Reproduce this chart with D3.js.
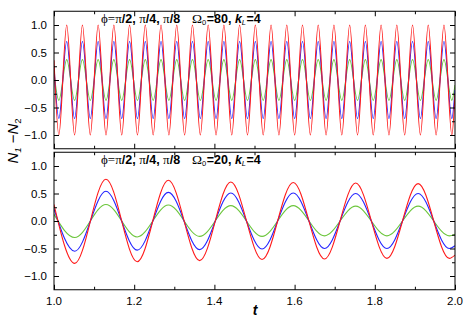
<!DOCTYPE html>
<html>
<head>
<meta charset="utf-8">
<script src="https://cdn.jsdelivr.net/npm/d3@7"></script>
<style>
body{margin:0;background:#fff;}
svg{display:block;font-family:"Liberation Sans",Arial,sans-serif;}
</style>
</head>
<body>
<div id="graphHolder"></div>
<script>
// upper panel (Omega0=80): times of the troughs/peaks, plus both ends
var tTop = [1.0,
	1.0121,1.0317,1.0513,1.0709,1.0905,1.1101,1.1297,1.1493,1.1689,1.1885,
	1.2081,1.2277,1.2473,1.2669,1.2865,1.3061,1.3257,1.3453,1.3649,1.3845,
	1.4041,1.4237,1.4433,1.4629,1.4825,1.5021,1.5217,1.5413,1.5609,1.5805,
	1.6001,1.6197,1.6393,1.6589,1.6785,1.6981,1.7177,1.7373,1.7569,1.7765,
	1.7961,1.8157,1.8353,1.8549,1.8745,1.8941,1.9137,1.9333,1.9529,1.9725,
	1.9921,2.0];
var redTop = [0.36,
	-1.0,1.0,-1.0,1.0,-1.0,1.0,-1.0,1.0,-1.0,1.0,
	-1.0,1.0,-1.0,1.0,-1.0,1.0,-1.0,1.0,-1.0,1.0,
	-1.0,1.0,-1.0,1.0,-1.0,1.0,-1.0,1.0,-1.0,1.0,
	-1.0,1.0,-1.0,1.0,-1.0,1.0,-1.0,1.0,-1.0,1.0,
	-1.0,1.0,-1.0,1.0,-1.0,1.0,-1.0,1.0,-1.0,1.0,
	-1.0,-0.25];
var blueTop = [0.25,
	-0.70,0.70,-0.70,0.70,-0.70,0.70,-0.70,0.70,-0.70,0.70,
	-0.70,0.70,-0.70,0.70,-0.70,0.70,-0.70,0.70,-0.70,0.70,
	-0.70,0.70,-0.70,0.70,-0.70,0.70,-0.70,0.70,-0.70,0.70,
	-0.70,0.70,-0.70,0.70,-0.70,0.70,-0.70,0.70,-0.70,0.70,
	-0.70,0.70,-0.70,0.70,-0.70,0.70,-0.70,0.70,-0.70,0.70,
	-0.70,-0.18];
var greenTop = [0.13,
	-0.37,0.37,-0.37,0.37,-0.37,0.37,-0.37,0.37,-0.37,0.37,
	-0.37,0.37,-0.37,0.37,-0.37,0.37,-0.37,0.37,-0.37,0.37,
	-0.37,0.37,-0.37,0.37,-0.37,0.37,-0.37,0.37,-0.37,0.37,
	-0.37,0.37,-0.37,0.37,-0.37,0.37,-0.37,0.37,-0.37,0.37,
	-0.37,0.37,-0.37,0.37,-0.37,0.37,-0.37,0.37,-0.37,0.37,
	-0.37,-0.09];

// lower panel (Omega0=20)
var tBot = [1.0,1.0517,1.1295,1.2074,1.2852,1.3631,1.4409,1.5188,1.5966,1.6745,1.7523,1.8302,1.9080,1.9859,2.0];
var redBot = [0.30,-0.77,0.76,-0.74,0.74,-0.72,0.71,-0.70,0.70,-0.69,0.69,-0.68,0.68,-0.68,-0.62];
var blueBot = [0.22,-0.55,0.54,-0.53,0.52,-0.52,0.51,-0.51,0.51,-0.50,0.50,-0.50,0.50,-0.50,-0.45];
var greenBot = [0.12,-0.30,0.30,-0.29,0.29,-0.28,0.28,-0.28,0.28,-0.27,0.27,-0.27,0.27,-0.27,-0.24];

var xTicks = [1.0,1.2,1.4,1.6,1.8,2.0];
var xMinor = [1.1,1.3,1.5,1.7,1.9];
var yTicks = [-1.0,-0.5,0.0,0.5,1.0];
var yMinor = [-0.75,-0.25,0.25,0.75];
var colors = {red:"#ff1a1a",blue:"#2424ff",green:"#6cc63c"};

var W = 463, H = 326;
var left = 54, right = 455;
var svg = d3.select("#graphHolder").append("svg")
	.attr("width",W).attr("height",H);

var x = d3.scaleLinear().domain([1,2]).range([left,right]);

function drawPanel(top,bottom,tData,series,omega,showXLabels){
	var y = d3.scaleLinear().domain([-1.25,1.25]).range([bottom,top]);
	var g = svg.append("g");

	// lines first, frame and ticks drawn over them
	var line = d3.line()
		.x(function(d){return x(d[0]);})
		.y(function(d){return y(d[1]);})
		.curve(d3.curveMonotoneX);
	var clipId = "clip"+omega;
	g.append("clipPath").attr("id",clipId).append("rect")
		.attr("x",left).attr("y",top).attr("width",right-left).attr("height",bottom-top);
	series.forEach(function(s){
		var pts = tData.map(function(t,i){return [t,s.vals[i]];});
		g.append("path")
			.attr("d",line(pts))
			.attr("clip-path","url(#"+clipId+")")
			.style("fill","none")
			.style("stroke",s.color)
			.style("stroke-width",1.1);
	});

	// inward ticks on all four sides
	function addAxis(axis,tx,ty){
		var a = g.append("g").attr("transform","translate("+tx+","+ty+")").call(axis);
		a.select(".domain").remove();
		a.selectAll("line").style("stroke","#000");
		return a;
	}
	addAxis(d3.axisBottom(x).tickValues(xTicks).tickSize(-5).tickFormat(""),0,bottom);
	addAxis(d3.axisBottom(x).tickValues(xMinor).tickSize(-3).tickFormat(""),0,bottom);
	addAxis(d3.axisTop(x).tickValues(xTicks).tickSize(-5).tickFormat(""),0,top);
	addAxis(d3.axisTop(x).tickValues(xMinor).tickSize(-3).tickFormat(""),0,top);
	var yl = addAxis(d3.axisLeft(y).tickValues(yTicks).tickSize(-5).tickPadding(7).tickFormat(d3.format(".1f")),left,0);
	yl.selectAll("text").style("font-size","11.5px").style("fill","#000")
		.style("font-family","'Liberation Sans',Arial,sans-serif");
	addAxis(d3.axisLeft(y).tickValues(yMinor).tickSize(-3).tickFormat(""),left,0);
	addAxis(d3.axisRight(y).tickValues(yTicks).tickSize(-5).tickFormat(""),right,0);
	addAxis(d3.axisRight(y).tickValues(yMinor).tickSize(-3).tickFormat(""),right,0);

	if (showXLabels){
		g.selectAll(".xlab").data(xTicks).enter().append("text")
			.attr("class","xlab")
			.attr("x",function(d){return x(d);})
			.attr("y",bottom+15.5)
			.attr("text-anchor","middle")
			.style("font-size","11.5px")
			.text(d3.format(".1f"));
	}

	g.append("rect")
		.attr("x",left).attr("y",top)
		.attr("width",right-left).attr("height",bottom-top)
		.style("fill","none").style("stroke","#000").style("stroke-width",1);

	// annotation
	var base = top+11.5;
	var t1 = g.append("text").attr("x",101).attr("y",base).style("font-size","12.5px");
	var parts = [["ϕ=π",0],["/2, ",1],["π",0],["/4, ",1],["π",0],["/8",1]];
	parts.forEach(function(p){
		var ts = t1.append("tspan").text(p[0]);
		if (p[1]) ts.style("font-weight","bold");
		else ts.style("font-family","'Liberation Serif','Times New Roman',serif").style("font-size","13px");
	});
	var t2 = g.append("text").attr("x",192).attr("y",base).style("font-size","12.5px");
	t2.append("tspan").text("Ω").style("font-family","'Liberation Serif','Times New Roman',serif").style("font-size","13.5px");
	t2.append("tspan").text("0").attr("dy",2).style("font-size","7.5px");
	t2.append("tspan").text("="+omega+", ").attr("dy",-2).attr("dx",0.5).style("font-weight","bold");
	t2.append("tspan").text("k").style("font-weight","bold").style("font-style","italic");
	t2.append("tspan").text("L").attr("dy",2).style("font-size","7.5px").style("font-style","italic");
	t2.append("tspan").text("=4").attr("dy",-2).attr("dx",0.5).style("font-weight","bold");
}

drawPanel(11.25,148.75,tTop,[
	{vals:greenTop,color:colors.green},
	{vals:blueTop,color:colors.blue},
	{vals:redTop,color:colors.red}],80,false);
drawPanel(152.25,289.75,tBot,[
	{vals:greenBot,color:colors.green},
	{vals:blueBot,color:colors.blue},
	{vals:redBot,color:colors.red}],20,true);

// axis titles
var yt = svg.append("text")
	.attr("transform","translate(18,141) rotate(-90)")
	.attr("text-anchor","middle")
	.style("font-size","15px");
yt.append("tspan").text("N").style("font-style","italic");
yt.append("tspan").text("1").attr("dy",3).style("font-size","9.5px").style("font-style","italic");
yt.append("tspan").text(" −").attr("dy",-3);
yt.append("tspan").text("N").style("font-style","italic");
yt.append("tspan").text("2").attr("dy",3).style("font-size","9.5px");

svg.append("text")
	.attr("x",255).attr("y",315)
	.attr("text-anchor","middle")
	.style("font-size","14px").style("font-weight","bold").style("font-style","italic")
	.text("t");
</script>
</body>
</html>
